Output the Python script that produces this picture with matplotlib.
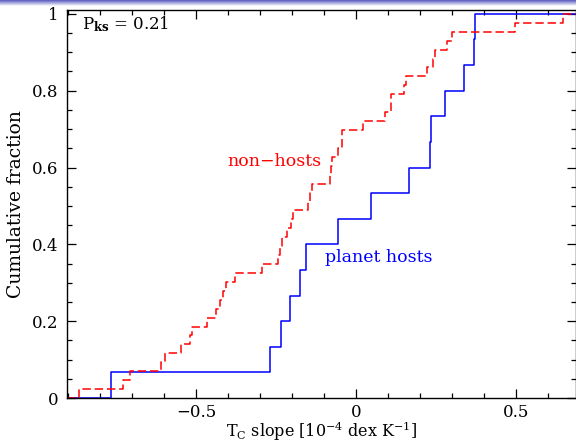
import numpy as np
import matplotlib
matplotlib.use('Agg')
import matplotlib.pyplot as plt
from matplotlib.colors import LinearSegmentedColormap

# Tc slopes
hosts = [-0.765, -0.268, -0.233, -0.206, -0.176, -0.157, -0.055, 0.047,
         0.166, 0.232, 0.235, 0.279, 0.336, 0.368, 0.373]
nonhosts = [-0.867, -0.728, -0.706, -0.609, -0.597, -0.547, -0.519, -0.5125,
            -0.465, -0.4375, -0.425, -0.415, -0.405, -0.378, -0.295, -0.243,
            -0.2375, -0.231, -0.2166, -0.203, -0.197, -0.150, -0.144, -0.1375,
            -0.081, -0.078, -0.075, -0.056, -0.045, -0.044, 0.021, 0.0906,
            0.109, 0.110, 0.150, 0.155, 0.221, 0.241, 0.247, 0.284, 0.300,
            0.497, 0.646]
p_ks = 0.21

plt.rcParams['font.family'] = ['DejaVu Serif']
plt.rcParams['mathtext.fontset'] = 'dejavuserif'

xmin, xmax = -0.903, 0.6875

def cum_curve(vals):
    v = np.sort(np.array(vals))
    n = len(v)
    x = np.concatenate([[xmin], v, [xmax]])
    y = np.concatenate([[0.0], np.arange(1, n + 1) / n, [1.0]])
    return x, y

fig = plt.figure(figsize=(5.76, 4.44), dpi=100)
ax = fig.add_axes([67 / 576, 46 / 444, 509 / 576, 388 / 444])

x, y = cum_curve(hosts)
ax.step(x, y, where='post', color='#0000ff', lw=1.1)
x, y = cum_curve(nonhosts)
ax.step(x, y, where='post', color='#ff0000', lw=1.1, dashes=(5.5, 2.5))

ax.set_xlim(xmin, xmax)
ax.set_ylim(0, 1.01)
ax.set_xticks([-0.5, 0, 0.5])
ax.set_xticklabels(['\u22120.5', '0', '0.5'])
ax.set_xticks(np.arange(-0.9, 0.7, 0.1), minor=True)
ax.set_yticks([0, 0.2, 0.4, 0.6, 0.8, 1.0])
ax.set_yticklabels(['0', '0.2', '0.4', '0.6', '0.8', '1'])
ax.set_yticks(np.arange(0, 1.01, 0.05), minor=True)
ax.tick_params(which='both', direction='in', top=True, right=True,
               labelsize=12, width=0.9)
ax.tick_params(which='major', length=6.5, pad=4)
ax.tick_params(which='minor', length=3.5)
ax.tick_params(axis='y', which='major', pad=6)
for s in ax.spines.values():
    s.set_linewidth(1.0)

ax.set_xlabel(r'T$_{\rm C}$ slope [10$^{-4}$ dex K$^{-1}$]', fontsize=11.5)
ax.xaxis.set_label_coords(0.5, -0.055)
ax.set_ylabel('Cumulative fraction', fontsize=13.5, labelpad=5)

ax.text(0.03, 0.963, r'P$_{\mathbf{ks}}$ = %.2f' % p_ks, transform=ax.transAxes,
        fontsize=12, va='center', ha='left')
ax.text(-0.256, 0.615, 'non\u2212hosts', color='#ff0000', fontsize=12.5,
        ha='center', va='center')
ax.text(0.072, 0.365, 'planet hosts', color='#0000ff', fontsize=12.5,
        ha='center', va='center')

# slide header gradient at the top
bar = fig.add_axes([0, 1 - 6 / 444, 1, 6 / 444])
cmap = LinearSegmentedColormap.from_list('hdr', ['#5858c0', '#ffffff'])
bar.imshow(np.linspace(0, 1, 50).reshape(-1, 1), aspect='auto', cmap=cmap)
bar.axis('off')

fig.savefig('out.png', dpi=100)
